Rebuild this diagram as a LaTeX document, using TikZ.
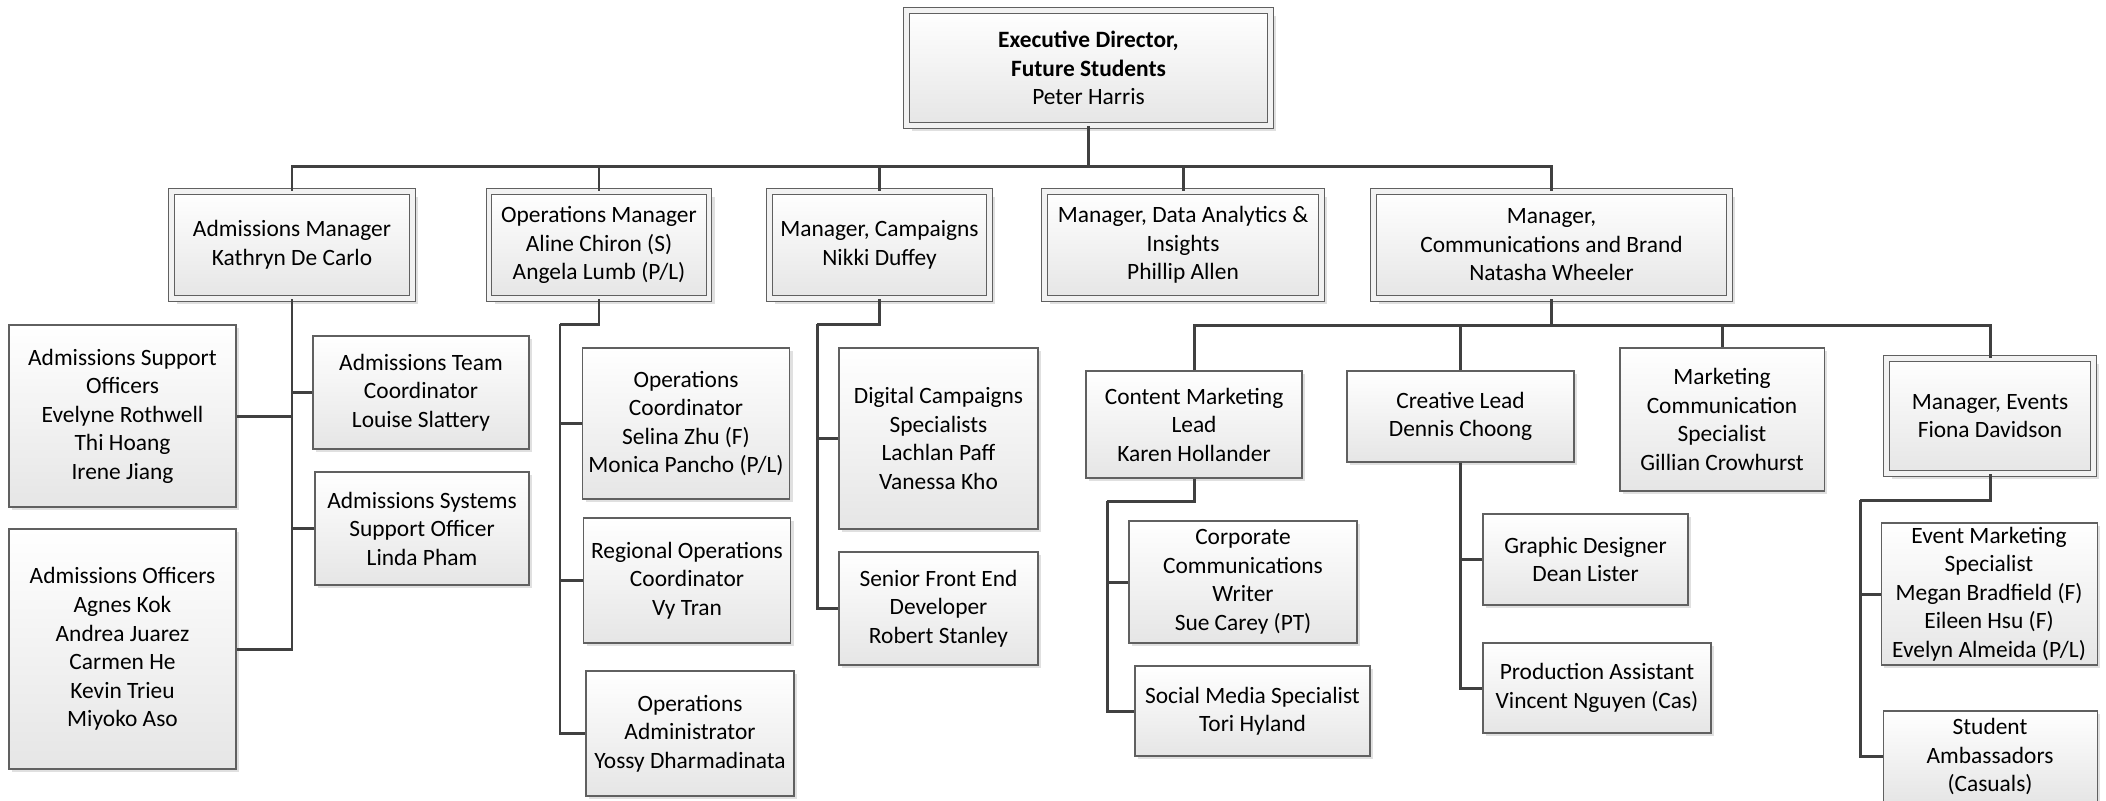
\documentclass[tikz,border=0pt]{standalone}
\usepackage{fontspec}
\setmainfont{Carlito}
\usetikzlibrary{shadows}

\definecolor{boxgray}{HTML}{606060}
\definecolor{linegray}{HTML}{404040}

\tikzset{
  basebox/.style 2 args={draw=boxgray, line width=0.5pt, top color=white, bottom color=black!10,
    align=center, inner sep=1pt, font=\fontsize{11}{13.4}\selectfont,
    minimum width=#1*0.47pt, minimum height=#2*0.47pt},
  cardbox/.style 2 args={basebox={#1}{#2},
    drop shadow={shadow xshift=1.5pt, shadow yshift=-1.5pt, fill=black!12, opacity=1}},
  mgrbox/.style 2 args={basebox={#1}{#2}, double=black!5, double distance=2pt,
    drop shadow={shadow xshift=2.6pt, shadow yshift=-2.6pt, fill=black!12, opacity=1}},
  link/.style={draw=linegray, line width=1.4pt},
}

\begin{document}
\begin{tikzpicture}[x=0.47pt, y=-0.47pt]
  \useasboundingbox (0,0) rectangle (2106,800);

  % Top
  \node[mgrbox={364}{115}] (ed) at (1088.5,68) {\textbf{Executive Director,}\\\textbf{Future Students}\\Peter Harris};

  % Managers
  \node[mgrbox={241}{107}] (adm)   at (292,245)    {Admissions Manager\\Kathryn De Carlo};
  \node[mgrbox={220}{107}] (ops)   at (599,245)    {Operations Manager\\Aline Chiron (S)\\Angela Lumb (P/L)};
  \node[mgrbox={220}{107}] (camp)  at (879.5,245)  {Manager, Campaigns\\Nikki Duffey};
  \node[mgrbox={277}{107}] (data)  at (1183,245)   {Manager, Data Analytics \&\\Insights\\Phillip Allen};
  \node[mgrbox={356}{107}] (comms) at (1551.5,245) {Manager,\\Communications and Brand\\Natasha Wheeler};

  % Admissions team
  \node[cardbox={227}{182}] (aso)  at (122.5,416) {Admissions Support\\Officers\\Evelyne Rothwell\\Thi Hoang\\Irene Jiang};
  \node[cardbox={227}{240}] (ao)   at (122.5,649) {Admissions Officers\\Agnes Kok\\Andrea Juarez\\Carmen He\\Kevin Trieu\\Miyoko Aso};
  \node[cardbox={216}{113}] (atc)  at (421,392.5) {Admissions Team\\Coordinator\\Louise Slattery};
  \node[cardbox={214}{113}] (asso) at (422,528.5) {Admissions Systems\\Support Officer\\Linda Pham};

  % Operations team
  \node[cardbox={207}{151}] (oc)  at (686,423.5) {Operations\\Coordinator\\Selina Zhu (F)\\Monica Pancho (P/L)};
  \node[cardbox={207}{125}] (roc) at (687,580.5) {Regional Operations\\Coordinator\\Vy Tran};
  \node[cardbox={208}{125}] (oa)  at (690,733.5) {Operations\\Administrator\\Yossy Dharmadinata};

  % Campaigns team
  \node[cardbox={199}{181}] (dcs) at (938.5,438.5) {Digital Campaigns\\Specialists\\Lachlan Paff\\Vanessa Kho};
  \node[cardbox={199}{113}] (sfe) at (938.5,608.5) {Senior Front End\\Developer\\Robert Stanley};

  % Communications and brand team
  \node[cardbox={216}{107}] (cml) at (1194,424.5)  {Content Marketing\\Lead\\Karen Hollander};
  \node[cardbox={227}{91}]  (cl)  at (1460.5,416.5) {Creative Lead\\Dennis Choong};
  \node[cardbox={204}{143}] (mcs) at (1722,419.5)  {Marketing\\Communication\\Specialist\\Gillian Crowhurst};
  \node[mgrbox={207}{115}]  (me)  at (1990,416)    {Manager, Events\\Fiona Davidson};

  \node[cardbox={228}{122}] (ccw) at (1243,582)    {Corporate\\Communications\\Writer\\Sue Carey (PT)};
  \node[cardbox={235}{90}]  (sms) at (1252.5,711)  {Social Media Specialist\\Tori Hyland};
  \node[cardbox={205}{91}]  (gd)  at (1585.5,559.5) {Graphic Designer\\Dean Lister};
  \node[cardbox={228}{90}]  (pa)  at (1597,688)    {Production Assistant\\Vincent Nguyen (Cas)};
  \node[cardbox={216}{142}] (ems) at (1989,594)    {Event Marketing\\Specialist\\Megan Bradfield (F)\\Eileen Hsu (F)\\Evelyn Almeida (P/L)};
  \node[cardbox={214}{91}]  (sa)  at (1990,756.5)  {Student\\Ambassadors\\(Casuals)};

  % Joints
  \coordinate (topbus)    at (ed.south |- 0,166);
  \coordinate (opsjoint)  at (560,324);
  \coordinate (campjoint) at (817,324);
  \coordinate (commsbus)  at (comms.south |- 0,325);
  \coordinate (cmljoint)  at (1107,501);
  \coordinate (mejoint)   at (1860,500);

  % Connectors
  \draw[link] (ed.south) -- (topbus);
  \foreach \n in {adm,ops,camp,data,comms}
    \draw[link] (topbus) -| (\n.north);

  \foreach \n in {aso,ao}
    \draw[link] (adm.south) |- (\n.east);
  \foreach \n in {atc,asso}
    \draw[link] (adm.south) |- (\n.west);

  \draw[link] (ops.south) |- (opsjoint);
  \foreach \n in {oc,roc,oa}
    \draw[link] (opsjoint) |- (\n.west);

  \draw[link] (camp.south) |- (campjoint);
  \foreach \n in {dcs,sfe}
    \draw[link] (campjoint) |- (\n.west);

  \draw[link] (comms.south) -- (commsbus);
  \foreach \n in {cml,cl,mcs,me}
    \draw[link] (commsbus) -| (\n.north);

  \draw[link] (cml.south) |- (cmljoint);
  \foreach \n in {ccw,sms}
    \draw[link] (cmljoint) |- (\n.west);

  \foreach \n in {gd,pa}
    \draw[link] (cl.south) |- (\n.west);

  \draw[link] (me.south) |- (mejoint);
  \foreach \n in {ems,sa}
    \draw[link] (mejoint) |- (\n.west);
\end{tikzpicture}
\end{document}
